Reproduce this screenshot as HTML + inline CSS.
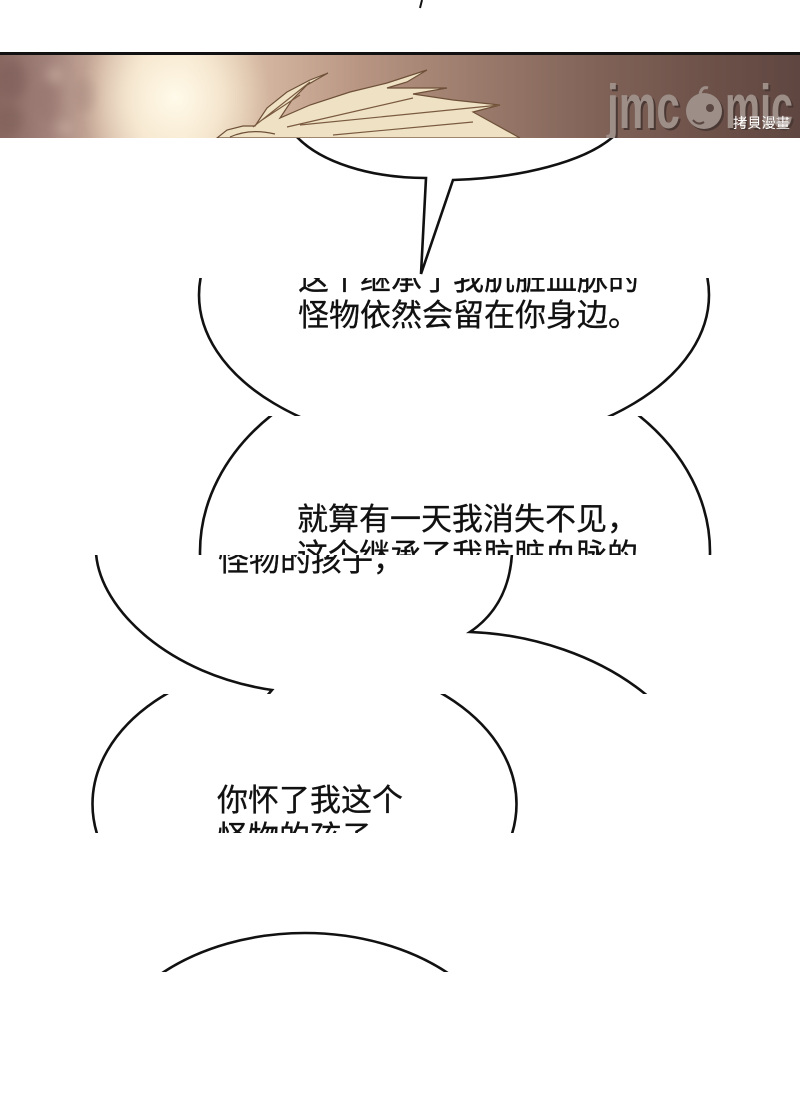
<!DOCTYPE html>
<html>
<head>
<meta charset="utf-8">
<style>
html,body{margin:0;padding:0;background:#fff;width:800px;height:1112px;overflow:hidden;}
svg{display:block;position:absolute;left:0;top:0;}
.t{font-family:"Liberation Sans","Noto Sans CJK SC",sans-serif;font-size:31px;fill:#111;stroke:#111;stroke-width:0.3px;}
</style>
</head>
<body>
<svg width="800" height="1112" viewBox="0 0 800 1112" xmlns="http://www.w3.org/2000/svg">
<defs>
  <clipPath id="c1"><rect x="0" y="0" width="800" height="52"/></clipPath>
  <clipPath id="c2"><rect x="0" y="55" width="800" height="83"/></clipPath>
  <clipPath id="c3"><rect x="0" y="138" width="800" height="140"/></clipPath>
  <clipPath id="c4"><rect x="0" y="278" width="800" height="138"/></clipPath>
  <clipPath id="c5"><rect x="0" y="416" width="800" height="139"/></clipPath>
  <clipPath id="c6"><rect x="0" y="555" width="800" height="139"/></clipPath>
  <clipPath id="c7"><rect x="0" y="694" width="800" height="139"/></clipPath>
  <clipPath id="c8"><rect x="0" y="833" width="800" height="139"/></clipPath>
  <filter id="blur" x="-50%" y="-50%" width="200%" height="200%"><feGaussianBlur stdDeviation="5"/></filter>
  <linearGradient id="bg" x1="0" y1="0" x2="1" y2="0">
    <stop offset="0" stop-color="#8a6862"/>
    <stop offset="0.06" stop-color="#a1817a"/>
    <stop offset="0.12" stop-color="#c9ab9a"/>
    <stop offset="0.18" stop-color="#eedcc4"/>
    <stop offset="0.23" stop-color="#f3e4cc"/>
    <stop offset="0.32" stop-color="#d6b9a2"/>
    <stop offset="0.45" stop-color="#b89583"/>
    <stop offset="0.6" stop-color="#9a7a6b"/>
    <stop offset="0.75" stop-color="#806257"/>
    <stop offset="0.9" stop-color="#6b5048"/>
    <stop offset="1" stop-color="#5f4640"/>
  </linearGradient>
  <radialGradient id="glow" cx="175" cy="98" r="95" gradientUnits="userSpaceOnUse">
    <stop offset="0" stop-color="#fffaea" stop-opacity="1"/>
    <stop offset="0.5" stop-color="#fbefd8" stop-opacity="0.7"/>
    <stop offset="1" stop-color="#f3e2c8" stop-opacity="0"/>
  </radialGradient>
</defs>

<g clip-path="url(#c1)">
  <line x1="422" y1="0" x2="420" y2="8" stroke="#111" stroke-width="2"/>
</g>

<rect x="0" y="52" width="800" height="3" fill="#111"/>

<g clip-path="url(#c2)">
  <rect x="0" y="55" width="800" height="83" fill="url(#bg)"/>
  <rect x="0" y="55" width="800" height="83" fill="url(#glow)"/>
  <g filter="url(#blur)">
    <ellipse cx="12" cy="80" rx="14" ry="20" fill="#7a5a55" opacity="0.5"/>
    <ellipse cx="10" cy="120" rx="12" ry="16" fill="#7a5a55" opacity="0.45"/>
    <ellipse cx="48" cy="100" rx="12" ry="22" fill="#8e6e68" opacity="0.35"/>
    <ellipse cx="55" cy="75" rx="8" ry="8" fill="#d0b4a6" opacity="0.5"/>
    <ellipse cx="65" cy="128" rx="8" ry="6" fill="#d2b8aa" opacity="0.45"/>
    <ellipse cx="85" cy="95" rx="10" ry="18" fill="#9a7c74" opacity="0.3"/>
  </g>
  <path d="M217,138 L227,130 L243,126 L255,126 L267,108 L287,92 L310,80 L328,73 L307,85 L292,100 L280,118 L310,105 L350,92 L387,83 L427,70 L407,82 L387,88 L417,88 L447,88 L413,94 L453,100 L500,105 L473,112 L520,138 Z" fill="#efe2c4" stroke="#6e5038" stroke-width="1.2"/>
  <path d="M253,127 L310,82 M287,127 L413,98 M300,125 L500,105 M333,135 L473,122 M262,120 L300,95" stroke="#7a5a40" stroke-width="1.2" fill="none"/>
  <path d="M230,137 Q250,128 275,134" stroke="#6e5038" stroke-width="1.2" fill="none"/>
  <text x="609" y="130" font-family="Liberation Sans, sans-serif" font-weight="bold" font-size="62" textLength="73" lengthAdjust="spacingAndGlyphs" fill="#4a3834">jmc</text>
  <text x="607" y="128" font-family="Liberation Sans, sans-serif" font-weight="bold" font-size="62" textLength="73" lengthAdjust="spacingAndGlyphs" fill="#9d8e88">jmc</text>
  <circle cx="706" cy="113" r="18" fill="#4a3834"/>
  <circle cx="704" cy="111" r="18" fill="#9d8e88"/>
  <path d="M700,94 Q702,86 708,88" stroke="#9d8e88" stroke-width="3" fill="none"/>
  <circle cx="710" cy="108" r="4" fill="#5a4642"/>
  <path d="M693,120 Q698,126 704,122" stroke="#5a4642" stroke-width="2" fill="none"/>
  <text x="727" y="130" font-family="Liberation Sans, sans-serif" font-weight="bold" font-size="62" textLength="68" lengthAdjust="spacingAndGlyphs" fill="#4a3834">mic</text>
  <text x="725" y="128" font-family="Liberation Sans, sans-serif" font-weight="bold" font-size="62" textLength="68" lengthAdjust="spacingAndGlyphs" fill="#9d8e88">mic</text>
  <text x="733" y="128" font-family="Liberation Sans, 'Noto Sans CJK TC', sans-serif" font-size="14" textLength="57" lengthAdjust="spacingAndGlyphs" fill="#ffffff">拷貝漫畫</text>
</g>

<g fill="none" stroke="#111" stroke-width="2.6" stroke-linejoin="miter">
  <g clip-path="url(#c3)">
    <path d="M296,136 C320,162 370,178 426,178 L421,274 L453,180 C520,178 585,162 614,136"/>
  </g>
  <g clip-path="url(#c4)">
    <ellipse cx="454" cy="295" rx="255" ry="153"/>
  </g>
  <g clip-path="url(#c5)">
    <ellipse cx="455" cy="552" rx="255" ry="197"/>
  </g>
  <g clip-path="url(#c6)">
    <path d="M96,553 C100,610 170,675 272,690 L266,697"/>
    <path d="M512,553 C510,590 495,615 470,632 C530,634 600,655 650,698"/>
  </g>
  <g clip-path="url(#c7)">
    <ellipse cx="304.5" cy="804" rx="212" ry="145"/>
  </g>
  <g clip-path="url(#c8)">
    <ellipse cx="305" cy="1083" rx="210" ry="150"/>
  </g>
</g>

<g clip-path="url(#c4)">
  <text class="t" x="298" y="290">这个继承了我肮脏血脉的</text>
  <text class="t" x="298" y="326">怪物依然会留在你身边。</text>
</g>
<g clip-path="url(#c5)">
  <text class="t" x="297" y="530">就算有一天我消失不见，</text>
  <text class="t" x="297" y="566">这个继承了我肮脏血脉的</text>
</g>
<g clip-path="url(#c6)">
  <text class="t" x="218" y="571">怪物的孩子，</text>
</g>
<g clip-path="url(#c7)">
  <text class="t" x="217" y="811">你怀了我这个</text>
  <text class="t" x="217" y="848">怪物的孩子</text>
</g>
</svg>
</body>
</html>
